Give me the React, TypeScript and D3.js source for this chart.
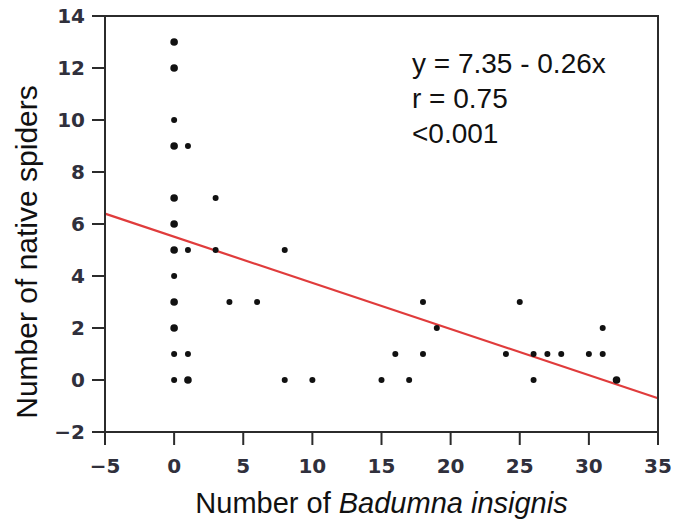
import React from "react";
import * as d3 from "d3";

const badumna = [0, 0, 0, 0, 0, 0, 0, 1, 0, 0, 3, 0, 0, 0, 0, 1, 3, 0, 0, 0, 4, 6, 0, 0, 0, 1, 0, 1, 1, 8, 18, 19, 16, 18, 8, 10, 15, 17, 25, 31, 24, 26, 27, 28, 30, 31, 26, 32, 32];
const natives = [13, 13, 12, 12, 10, 9, 9, 9, 7, 7, 7, 6, 6, 5, 5, 5, 5, 4, 3, 3, 3, 3, 2, 2, 1, 1, 0, 0, 0, 5, 3, 2, 1, 1, 0, 0, 0, 0, 3, 2, 1, 1, 1, 1, 1, 1, 0, 0, 0];

const xTicks = [-5, 0, 5, 10, 15, 20, 25, 30, 35];
const yTicks = [-2, 0, 2, 4, 6, 8, 10, 12, 14];
const xDomain = [-5, 35];
const yDomain = [-2, 14];

// Fitted line as drawn in the figure
const fitIntercept = 5.51;
const fitSlope = -0.1775;
const fitText = ["y = 7.35 - 0.26x", "r = 0.75", "<0.001"];

const W = 673;
const H = 525;
const M = { left: 105, right: 658, top: 16, bottom: 432 };

export default function App() {
  const x = d3.scaleLinear().domain(xDomain).range([M.left, M.right]);
  const y = d3.scaleLinear().domain(yDomain).range([M.bottom, M.top]);

  const pts = badumna.map((b, i) => ({ b, n: natives[i] }));
  const counts = d3.rollup(pts, (v) => v.length, (d) => `${d.b}|${d.n}`);
  const unique = Array.from(counts, ([k, c]) => {
    const [b, n] = k.split("|").map(Number);
    return { b, n, c };
  });

  const line = d3
    .line<number>()
    .x((d) => x(d))
    .y((d) => y(fitIntercept + fitSlope * d));

  const axisColor = "#2b2b2b";
  const tickFont = "'DejaVu Sans', Verdana, sans-serif";
  const titleFont = "'Liberation Sans', Arial, Helvetica, sans-serif";

  return (
    <svg
      width={W}
      height={H}
      style={{ position: "absolute", left: 0, top: 0, background: "#fff" }}
    >
      <rect x={0} y={0} width={W} height={H} fill="#fff" />
      {/* regression line */}
      <path d={line(xDomain) || ""} stroke="#e03c3c" strokeWidth={2.2} fill="none" />

      {/* points */}
      {unique.map((p, i) => (
        <circle key={i} cx={x(p.b)} cy={y(p.n)} r={p.c > 1 ? 3.8 : 3} fill="#111" />
      ))}

      {/* frame */}
      <rect
        x={M.left}
        y={M.top}
        width={M.right - M.left}
        height={M.bottom - M.top}
        fill="none"
        stroke={axisColor}
        strokeWidth={2}
      />

      {/* y ticks */}
      {yTicks.map((t) => (
        <g key={"y" + t}>
          <line x1={M.left - 13} x2={M.left} y1={y(t)} y2={y(t)} stroke={axisColor} strokeWidth={2} />
          <text
            x={M.left - 20}
            y={y(t)}
            dy="0.36em"
            textAnchor="end"
            fontFamily={tickFont}
            fontWeight="bold"
            fontSize={20}
            fill="#30303c"
          >
            {t < 0 ? "\u2212" + Math.abs(t) : t}
          </text>
        </g>
      ))}

      {/* x ticks */}
      {xTicks.map((t) => (
        <g key={"x" + t}>
          <line x1={x(t)} x2={x(t)} y1={M.bottom} y2={M.bottom + 13} stroke={axisColor} strokeWidth={2} />
          <text
            x={x(t)}
            y={473}
            textAnchor="middle"
            fontFamily={tickFont}
            fontWeight="bold"
            fontSize={20}
            fill="#30303c"
          >
            {t < 0 ? "\u2212" + Math.abs(t) : t}
          </text>
        </g>
      ))}

      {/* axis titles */}
      <text
        x={(M.left + M.right) / 2}
        y={513}
        textAnchor="middle"
        fontFamily={titleFont}
        fontSize={29}
        fill="#111"
      >
        Number of <tspan fontStyle="italic">Badumna insignis</tspan>
      </text>
      <text
        transform={`translate(37, 252) rotate(-90)`}
        textAnchor="middle"
        fontFamily={titleFont}
        fontSize={30}
        fill="#111"
      >
        Number of native spiders
      </text>

      {/* annotation */}
      {fitText.map((s, i) => (
        <text
          key={s}
          x={412}
          y={73 + i * 35}
          fontFamily={titleFont}
          fontSize={28}
          fill="#111"
        >
          {s}
        </text>
      ))}
    </svg>
  );
}
